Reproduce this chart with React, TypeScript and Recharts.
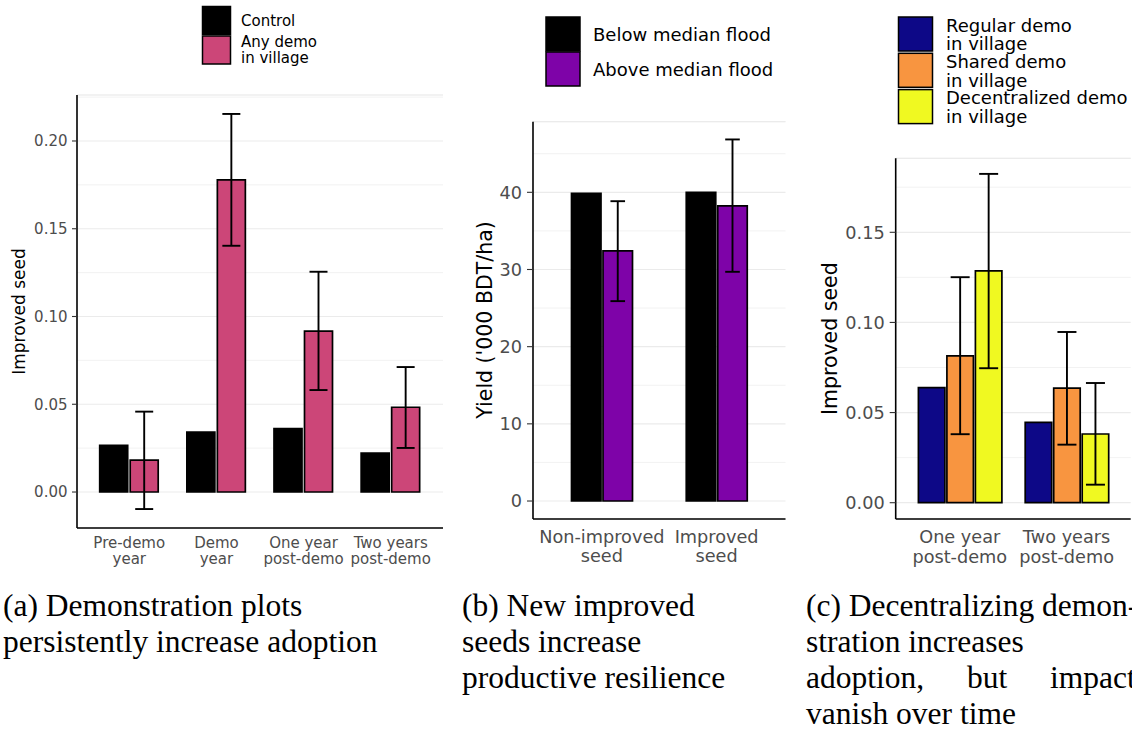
import React from 'react';
import { BarChart, Bar, XAxis, YAxis, CartesianGrid, ErrorBar, Label } from 'recharts';

const SANS = '"DejaVu Sans", Verdana, sans-serif';
const SERIF = '"Liberation Serif", "Times New Roman", serif';
const TICK_GREY = '#4D4D4D';

// ---------- Panel (a) ----------
const periodsA = ['Pre-demo\nyear', 'Demo\nyear', 'One year\npost-demo', 'Two years\npost-demo'];
const controlA = [0.0266, 0.0342, 0.0361, 0.0222];
const anyDemoA = [0.0182, 0.1778, 0.0917, 0.0483];
const anyDemoLoA = [-0.0097, 0.1403, 0.0581, 0.0251];
const anyDemoHiA = [0.0458, 0.2154, 0.1255, 0.0712];
const ticksA = [0, 0.05, 0.1, 0.15, 0.2];
const minorTicksA = [0.025, 0.075, 0.125, 0.175, 0.225];
const seriesNamesA = ['Control', 'Any demo\nin village'];
const coloursA = ['#000000', '#CC4678'];

// ---------- Panel (b) ----------
const seedTypesB = ['Non-improved\nseed', 'Improved\nseed'];
const belowFloodB = [39.85, 40.0];
const aboveFloodB = [32.4, 38.25];
const aboveFloodLoB = [25.9, 29.7];
const aboveFloodHiB = [38.85, 46.85];
const ticksB = [0, 10, 20, 30, 40];
const minorTicksB = [5, 15, 25, 35, 45];
const seriesNamesB = ['Below median flood', 'Above median flood'];
const coloursB = ['#000000', '#7E03A8'];

// ---------- Panel (c) ----------
const periodsC = ['One year\npost-demo', 'Two years\npost-demo'];
const regularC = [0.0638, 0.0446];
const sharedC = [0.0814, 0.0636];
const sharedLoC = [0.038, 0.0322];
const sharedHiC = [0.1251, 0.0947];
const decentralC = [0.1286, 0.0381];
const decentralLoC = [0.0746, 0.010];
const decentralHiC = [0.1824, 0.0664];
const ticksC = [0, 0.05, 0.1, 0.15];
const minorTicksC = [0.025, 0.075, 0.125, 0.175];
const seriesNamesC = ['Regular demo\nin village', 'Shared demo\nin village', 'Decentralized demo\nin village'];
const coloursC = ['#0D0887', '#F89540', '#F0F921'];

// ---------- Captions ----------
const captionA = ['(a) Demonstration plots', 'persistently increase adoption'];
const captionB = ['(b) New improved', 'seeds increase', 'productive resilience'];
const captionC = ['(c) Decentralizing demon-', 'stration increases', 'adoption, but impacts', 'vanish over time'];
const captionCJustified = [false, false, true, false];

const err = (v: number, lo: number, hi: number) => [v - lo, hi - v];

const dataA = periodsA.map((cat, i) => ({
  cat,
  control: controlA[i],
  anyDemo: anyDemoA[i],
  anyDemoErr: err(anyDemoA[i], anyDemoLoA[i], anyDemoHiA[i]),
}));

const dataB = seedTypesB.map((cat, i) => ({
  cat,
  below: belowFloodB[i],
  above: aboveFloodB[i],
  aboveErr: err(aboveFloodB[i], aboveFloodLoB[i], aboveFloodHiB[i]),
}));

const dataC = periodsC.map((cat, i) => ({
  cat,
  regular: regularC[i],
  shared: sharedC[i],
  sharedErr: err(sharedC[i], sharedLoC[i], sharedHiC[i]),
  decentral: decentralC[i],
  decentralErr: err(decentralC[i], decentralLoC[i], decentralHiC[i]),
}));

interface SeriesDef {
  key: string;
  name: string;
  fill: string;
  errKey?: string;
}

interface PanelProps {
  data: any[];
  series: SeriesDef[];
  domain: [number, number];
  ticks: number[];
  minor: number[];
  fmt: (v: number) => string;
  margin: { top: number; right: number; bottom: number; left: number };
  pad: number;
  barSize: number;
  barGap: number;
  tickFs: number;
  tickSize: number;
  tickMargin: number;
  xFirst: number;
  xGap: number;
  errHalf: number;
  title: string;
  titleX: number;
  titleY: number;
  titleFs: number;
}

const makeXTick = (fontSize: number, first: number, gap: number) => (props: any) => {
  const { x, y, payload } = props;
  const lines = String(payload.value).split('\n');
  return (
    <text
      x={x}
      y={y}
      textAnchor="middle"
      dominantBaseline="central"
      fill={TICK_GREY}
      fontSize={fontSize}
      fontFamily={SANS}
    >
      {lines.map((ln, i) => (
        <tspan key={i} x={x} y={y + first + i * gap}>
          {ln}
        </tspan>
      ))}
    </text>
  );
};

function Panel(p: PanelProps) {
  return (
    <div style={{ position: 'absolute', left: 0, top: 0 }}>
      <BarChart
        width={1132}
        height={580}
        data={p.data}
        margin={p.margin}
        barSize={p.barSize}
        barGap={p.barGap}
      >
        <CartesianGrid vertical={false} yAxisId="minor" stroke="#EDEDED" strokeWidth={0.7} />
        <CartesianGrid vertical={false} stroke="#EBEBEB" strokeWidth={1.2} />
        <XAxis
          dataKey="cat"
          type="category"
          interval={0}
          height={40}
          padding={{ left: p.pad, right: p.pad }}
          tickLine={false}
          tickSize={0}
          tickMargin={0}
          axisLine={{ stroke: '#000', strokeWidth: 1.6 }}
          tick={makeXTick(p.tickFs, p.xFirst, p.xGap)}
        />
        <YAxis
          type="number"
          domain={p.domain}
          allowDataOverflow
          ticks={p.ticks}
          interval={0}
          width={60}
          tickFormatter={p.fmt}
          tick={{ fill: TICK_GREY, fontSize: p.tickFs, fontFamily: SANS }}
          tickSize={p.tickSize}
          tickMargin={p.tickMargin}
          tickLine={{ stroke: '#333', strokeWidth: 1.1 }}
          axisLine={{ stroke: '#000', strokeWidth: 1.6 }}
        >
          <Label
            content={() => (
              <text
                x={p.titleX}
                y={p.titleY}
                transform={`rotate(-90 ${p.titleX} ${p.titleY})`}
                textAnchor="middle"
                dominantBaseline="central"
                fontSize={p.titleFs}
                fontFamily={SANS}
                fill="#000"
              >
                {p.title}
              </text>
            )}
          />
        </YAxis>
        <YAxis
          yAxisId="minor"
          hide
          type="number"
          domain={p.domain}
          allowDataOverflow
          ticks={p.minor}
          interval={0}
        />
        {p.series.map((s) => (
          <Bar
            key={s.key}
            dataKey={s.key}
            name={s.name}
            fill={s.fill}
            stroke="#000"
            strokeWidth={1.7}
            isAnimationActive={false}
          >
            {s.errKey ? (
              <ErrorBar
                dataKey={s.errKey}
                width={p.errHalf}
                stroke="#000"
                strokeWidth={1.9}
                isAnimationActive={false}
              />
            ) : null}
          </Bar>
        ))}
      </BarChart>
    </div>
  );
}

interface LegendProps {
  names: string[];
  fills: string[];
  x: number;
  y0: number;
  size: number;
  step: number;
  textX: number;
  fs: number;
  lineGap: number;
}

function LegendBlock(l: LegendProps) {
  return (
    <g>
      {l.names.map((nm, i) => {
        const ky = l.y0 + i * l.step;
        const cy = ky + l.size / 2;
        const lines = nm.split('\n');
        const start = cy - ((lines.length - 1) * l.lineGap) / 2;
        return (
          <g key={i}>
            <rect x={l.x} y={ky} width={l.size} height={l.size} fill={l.fills[i]} stroke="#000" strokeWidth={1.5} />
            <text x={l.textX} y={start} fontSize={l.fs} fontFamily={SANS} fill="#000" dominantBaseline="central">
              {lines.map((ln, j) => (
                <tspan key={j} x={l.textX} y={start + j * l.lineGap}>
                  {ln}
                </tspan>
              ))}
            </text>
          </g>
        );
      })}
    </g>
  );
}

function Caption({ lines, left, justified }: { lines: string[]; left: number; justified?: boolean[] }) {
  return (
    <div
      style={{
        position: 'absolute',
        left,
        top: 588,
        fontFamily: SERIF,
        fontSize: 31.5,
        lineHeight: '36px',
        color: '#000',
        whiteSpace: 'nowrap',
      }}
    >
      {lines.map((ln, i) => (
        <div key={i} style={{ height: 36, wordSpacing: justified && justified[i] ? '35px' : undefined }}>
          {ln}
        </div>
      ))}
    </div>
  );
}

const fmt2 = (v: number) => v.toFixed(2);
const fmt0 = (v: number) => String(v);

export default function App() {
  return (
    <div
      style={{
        position: 'absolute',
        left: 0,
        top: 0,
        width: 1132,
        height: 732,
        overflow: 'hidden',
        background: '#fff',
      }}
    >
      <Panel
        data={dataA}
        series={[
          { key: 'control', name: seriesNamesA[0], fill: coloursA[0] },
          { key: 'anyDemo', name: seriesNamesA[1], fill: coloursA[1], errKey: 'anyDemoErr' },
        ]}
        domain={[-0.0205, 0.2262]}
        ticks={ticksA}
        minor={minorTicksA}
        fmt={fmt2}
        margin={{ top: 95, right: 689, bottom: 12, left: 17 }}
        pad={8.7}
        barSize={28}
        barGap={2.5}
        tickFs={15}
        tickSize={5}
        tickMargin={4.5}
        xFirst={15}
        xGap={16.3}
        errHalf={9}
        title="Improved seed"
        titleX={19}
        titleY={311.5}
        titleFs={17}
      />
      <Panel
        data={dataB}
        series={[
          { key: 'below', name: seriesNamesB[0], fill: coloursB[0] },
          { key: 'above', name: seriesNamesB[1], fill: coloursB[1], errKey: 'aboveErr' },
        ]}
        domain={[-2.33, 49.15]}
        ticks={ticksB}
        minor={minorTicksB}
        fmt={fmt0}
        margin={{ top: 121.7, right: 346.5, bottom: 21, left: 473 }}
        pad={11.5}
        barSize={29.5}
        barGap={2}
        tickFs={17.7}
        tickSize={6}
        tickMargin={5}
        xFirst={18.3}
        xGap={19}
        errHalf={7.3}
        title="Yield ('000 BDT/ha)"
        titleX={485}
        titleY={320}
        titleFs={20.5}
      />
      <Panel
        data={dataC}
        series={[
          { key: 'regular', name: seriesNamesC[0], fill: coloursC[0] },
          { key: 'shared', name: seriesNamesC[1], fill: coloursC[1], errKey: 'sharedErr' },
          { key: 'decentral', name: seriesNamesC[2], fill: coloursC[2], errKey: 'decentralErr' },
        ]}
        domain={[-0.00904, 0.19105]}
        ticks={ticksC}
        minor={minorTicksC}
        fmt={fmt2}
        margin={{ top: 158.3, right: 1.3, bottom: 21, left: 835.7 }}
        pad={10.7}
        barSize={26.5}
        barGap={2}
        tickFs={17.7}
        tickSize={6}
        tickMargin={5}
        xFirst={18.3}
        xGap={19.3}
        errHalf={9.5}
        title="Improved seed"
        titleX={830}
        titleY={338.7}
        titleFs={20.5}
      />
      <svg width={1132} height={580} style={{ position: 'absolute', left: 0, top: 0, pointerEvents: 'none' }}>
        <LegendBlock names={seriesNamesA} fills={coloursA} x={202.5} y0={6.5} size={28} step={29.5} textX={241} fs={15} lineGap={16.6} />
        <LegendBlock names={seriesNamesB} fills={coloursB} x={546} y0={17} size={34} step={35} textX={593} fs={18} lineGap={18.4} />
        <LegendBlock names={seriesNamesC} fills={coloursC} x={898.5} y0={17} size={34} step={36.3} textX={946} fs={18} lineGap={18.4} />
      </svg>
      <Caption lines={captionA} left={3} />
      <Caption lines={captionB} left={462} />
      <Caption lines={captionC} left={806} justified={captionCJustified} />
    </div>
  );
}
